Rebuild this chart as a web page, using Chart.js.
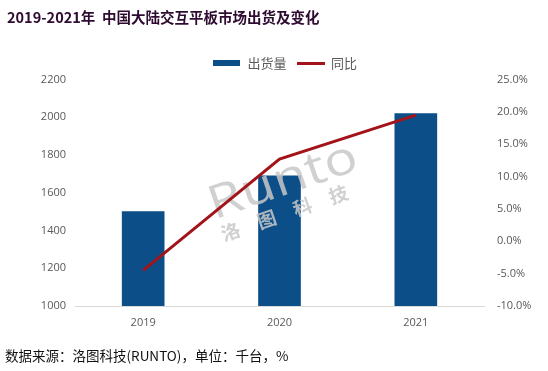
<!DOCTYPE html>
<html>
<head>
<meta charset="utf-8">
<script src="https://cdn.jsdelivr.net/npm/chart.js@4.4.1/dist/chart.umd.min.js"></script>
<style>
  html, body { margin: 0; padding: 0; background: #ffffff; }
  #wrap { position: relative; width: 548px; height: 371px; overflow: hidden; }
  #c { position: absolute; left: 0; top: 0; }
  #title { position: absolute; left: 7px; top: 6px; font: bold 14.5px "Noto Sans CJK SC", sans-serif; color: #2e0b30; white-space: nowrap; line-height: 22px; }
  #note { position: absolute; left: 5px; top: 344px; font: 13.5px "Noto Sans CJK SC", sans-serif; color: #111111; white-space: nowrap; line-height: 22px; }
</style>
</head>
<body>
<div id="wrap">
  <canvas id="c" width="548" height="371"></canvas>
  <div id="title">2019-2021年&nbsp;&nbsp;中国大陆交互平板市场出货及变化</div>
  <div id="note">数据来源：洛图科技(RUNTO)，单位：千台，%</div>
</div>
<script>
const categories = ['2019', '2020', '2021'];
const shipments = [1500, 1690, 2020];
const yoyGrowth = [-4.5, 12.7, 19.5];
const leftTicks = [1000, 1200, 1400, 1600, 1800, 2000, 2200];
const rightTicks = [-10, -5, 0, 5, 10, 15, 20, 25];
const seriesNames = ['出货量', '同比'];

const BLUE = '#0c4e88';
const RED = '#a3141a';
const TICK = '#595959';

function swatch(w, h, color) {
  const cv = document.createElement('canvas');
  cv.width = w; cv.height = h;
  const g = cv.getContext('2d');
  g.fillStyle = color; g.fillRect(0, 0, w, h);
  return cv;
}
const barSwatch = swatch(27, 6, BLUE);
const lineSwatch = swatch(28, 3, RED);

const watermark = {
  id: 'watermark',
  afterDatasetDraw(chart, args) {
    if (args.index !== 0) return;
    const ctx = chart.ctx;
    ctx.save();
    ctx.fillStyle = 'rgba(200,200,200,0.85)';
    ctx.translate(210, 207);
    ctx.rotate(-19 * Math.PI / 180);
    ctx.font = '400 46px "Open Sans", sans-serif';
    const w = ctx.measureText('Runto').width;
    ctx.save();
    ctx.scale(155 / w, 1);
    ctx.fillText('Runto', 0, 0);
    ctx.restore();
    ctx.font = 'bold 19px "Noto Sans CJK SC", sans-serif';
    const chars = ['洛', '图', '科', '技'];
    chars.forEach((ch, i) => ctx.fillText(ch, 2 + i * 38, 30));
    ctx.restore();
  }
};

new Chart(document.getElementById('c'), {
  data: {
    labels: categories,
    datasets: [
      {
        type: 'bar',
        label: seriesNames[0],
        data: shipments,
        backgroundColor: BLUE,
        borderWidth: 0,
        barThickness: 42,
        yAxisID: 'y',
        order: 1
      },
      {
        type: 'line',
        label: seriesNames[1],
        data: yoyGrowth,
        borderColor: RED,
        backgroundColor: RED,
        borderWidth: 3,
        pointRadius: 0,
        pointHoverRadius: 0,
        tension: 0,
        yAxisID: 'y1',
        order: 0
      }
    ]
  },
  options: {
    responsive: false,
    animation: false,
    devicePixelRatio: 1,
    layout: { padding: { left: 22, right: 0, top: 46.5, bottom: 0 } },
    plugins: {
      legend: {
        position: 'top',
        maxHeight: 33.5,
        labels: {
          usePointStyle: true,
          pointStyleWidth: 28,
          padding: 10,
          color: TICK,
          font: { family: '"Noto Sans CJK SC", sans-serif', size: 13 },
          generateLabels(chart) {
            return chart.data.datasets.map((ds, i) => ({
              text: ds.label,
              fillStyle: i === 0 ? BLUE : RED,
              strokeStyle: i === 0 ? BLUE : RED,
              lineWidth: 0,
              pointStyle: i === 0 ? barSwatch : lineSwatch,
              fontColor: TICK,
              hidden: false,
              datasetIndex: i
            }));
          }
        }
      },
      tooltip: { enabled: false }
    },
    scales: {
      x: {
        offset: true,
        grid: { display: false, drawTicks: false },
        border: { display: true, color: '#d9d9d9', width: 1 },
        ticks: { color: TICK, padding: 10, font: { family: '"Open Sans", sans-serif', size: 11 } },
        afterFit(scale) { scale.height = 65; }
      },
      y: {
        position: 'left',
        min: 1000,
        max: 2200,
        afterBuildTicks(scale) { scale.ticks = leftTicks.map(v => ({ value: v })); },
        grid: { display: false, drawTicks: false },
        border: { display: false },
        ticks: {
          color: TICK, padding: 9,
          font: { family: '"Open Sans", sans-serif', size: 11 },
          callback: v => String(v)
        },
        afterFit(scale) { scale.width = 53; }
      },
      y1: {
        position: 'right',
        min: -10,
        max: 25,
        afterBuildTicks(scale) { scale.ticks = rightTicks.map(v => ({ value: v })); },
        grid: { display: false, drawTicks: false },
        border: { display: false },
        ticks: {
          color: TICK, padding: 13,
          font: { family: '"Open Sans", sans-serif', size: 11 },
          callback: v => v.toFixed(1) + '%'
        },
        afterFit(scale) { scale.width = 64; }
      }
    }
  },
  plugins: [watermark]
});
</script>
</body>
</html>
